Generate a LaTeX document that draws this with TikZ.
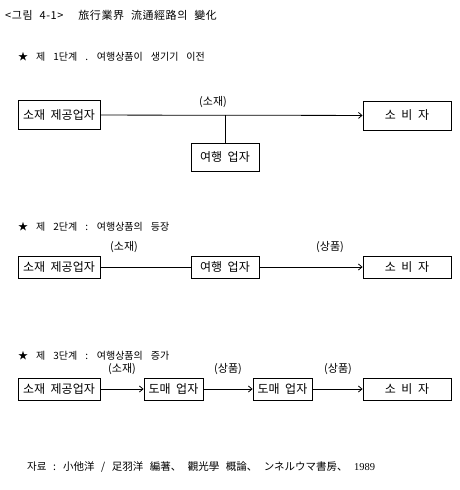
\documentclass[tikz,border=0pt]{standalone}
\usepackage{fontspec}
\setmainfont{Noto Sans CJK KR}
\newfontfamily\ttlfont[LetterSpace=5]{Noto Sans CJK KR}
\newfontfamily\numfont{Liberation Serif}
\newcommand\myttl{\ttlfont\fontsize{11}{12}\selectfont\spaceskip=7pt\relax}
\newcommand\myhdr{\fontsize{10}{12}\selectfont\spaceskip=8pt\relax}
\newcommand\mybox{\fontsize{12}{12}\selectfont\spaceskip=5.5pt\relax}
\newcommand\mysrc{\fontsize{10.5}{12}\selectfont\spaceskip=6.5pt\relax}
\usetikzlibrary{arrows.meta}
\begin{document}
\begin{tikzpicture}[x=1pt,y=-1pt,
  box/.style={draw,line width=0.9pt,minimum height=29pt,inner sep=0pt,font=\mybox},
  lbl/.style={inner sep=0pt,font=\fontsize{11}{12}\selectfont},
  txt/.style={inner sep=0pt,anchor=west,font=\myhdr},
  conn/.style={line width=0.8pt},
  arr/.style={line width=0.8pt,-{Straight Barb[length=3.5pt,width=6pt]}}]
\useasboundingbox (0,0) rectangle (460,490);
% title
\node[txt,font=\myttl] (title) at (5,15) {<그림 4-1>\hspace{8pt} 旅行業界 流通經路의 變化};
% stage 1
\node[txt] (h1) at (18,57) {★ 제 1단계 . 여행상품이 생기기 이전};
\node[box,minimum width=82pt] (a1) at (59,115) {소재 제공업자};
\node[box,minimum width=88pt] (c1) at (407,115.5) {소 비 자};
\node[box,minimum width=68pt,minimum height=28pt] (b1) at (225,157) {여행 업자};
\draw[arr] (a1) -- (c1);
\coordinate (j1) at (b1.north |- a1.east);
\draw[conn] (b1.north) -- (j1);
\node[lbl] (l1) at (213,102) {(소재)};
% stage 2
\node[txt] (h2) at (18,227) {★ 제 2단계 : 여행상품의 등장};
\node[box,minimum width=82pt,minimum height=22pt] (a2) at (59,267) {소재 제공업자};
\node[box,minimum width=68pt,minimum height=22pt] (b2) at (225,267) {여행 업자};
\node[box,minimum width=88pt,minimum height=22pt] (c2) at (407,267) {소 비 자};
\draw[conn] (a2) -- (b2);
\draw[arr] (b2) -- (c2);
\node[lbl] (l2a) at (124,247) {(소재)};
\node[lbl] (l2b) at (330,247) {(상품)};
% stage 3
\node[txt] (h3) at (18,356) {★ 제 3단계 : 여행상품의 증가};
\node[box,minimum width=82pt,minimum height=22pt] (a3) at (59,389) {소재 제공업자};
\node[box,minimum width=59pt,minimum height=22pt] (b3) at (173.5,389) {도매 업자};
\node[box,minimum width=59pt,minimum height=22pt] (d3) at (282.5,389) {도매 업자};
\node[box,minimum width=88pt,minimum height=22pt] (c3) at (407,389) {소 비 자};
\draw[arr] (a3) -- (b3);
\draw[arr] (b3) -- (d3);
\draw[arr] (d3) -- (c3);
\node[lbl] (l3a) at (122,369) {(소재)};
\node[lbl] (l3b) at (228,369) {(상품)};
\node[lbl] (l3c) at (338,369) {(상품)};
% source
\node[txt,font=\mysrc] (src) at (27,467) {자료 : 小他洋 / 足羽洋 編著、 觀光學 概論、 ンネルウマ書房、 {\numfont 1989}};
\end{tikzpicture}
\end{document}
